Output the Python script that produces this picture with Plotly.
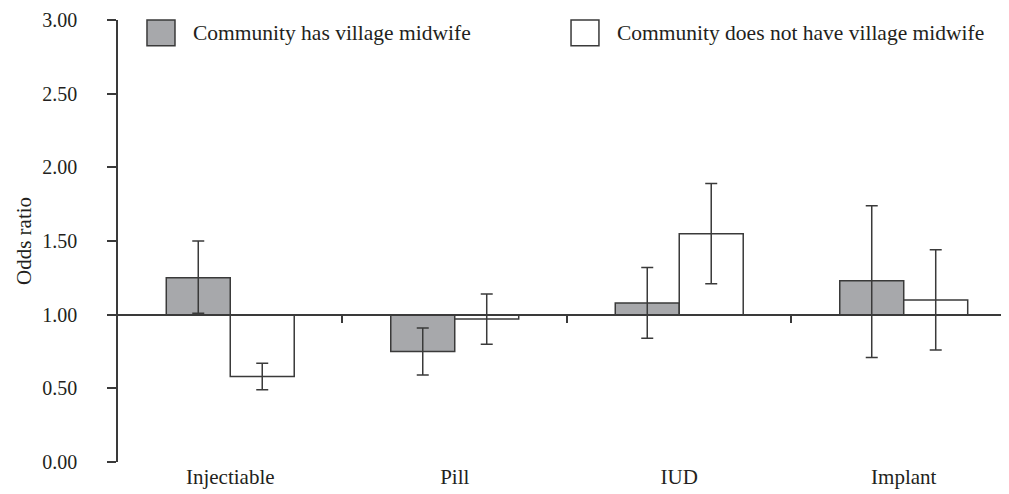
import plotly.graph_objects as go

categories = ["Injectiable", "Pill", "IUD", "Implant"]
series_names = ["Community has village midwife", "Community does not have village midwife"]
has_midwife_or = [1.25, 0.75, 1.08, 1.23]
has_midwife_upper = [1.50, 0.91, 1.32, 1.74]
has_midwife_lower = [1.01, 0.59, 0.84, 0.71]
no_midwife_or = [0.58, 0.97, 1.55, 1.10]
no_midwife_upper = [0.67, 1.14, 1.89, 1.44]
no_midwife_lower = [0.49, 0.80, 1.21, 0.76]
y_tick_values = [0, 0.5, 1, 1.5, 2, 2.5, 3]
reference_line = 1.0

FONT = "Liberation Serif"
TXT = "#231f20"
LINE = "#3a3a3a"
GRAY = "#a7a8ab"

fig = go.Figure()

def add_series(name, vals, up, lo, fill):
    fig.add_trace(go.Bar(
        name=name, x=categories,
        y=[v - reference_line for v in vals], base=reference_line,
        marker=dict(color=fill, line=dict(color=LINE, width=1.5)),
        error_y=dict(type="data", symmetric=False,
                     array=[u - v for u, v in zip(up, vals)],
                     arrayminus=[v - l for v, l in zip(vals, lo)],
                     color=LINE, thickness=1.5, width=6),
        showlegend=False, hoverinfo="skip",
    ))

add_series(series_names[0], has_midwife_or, has_midwife_upper, has_midwife_lower, GRAY)
add_series(series_names[1], no_midwife_or, no_midwife_upper, no_midwife_lower, "white")

# empty trace so the reference-line axis (x2) is drawn
fig.add_trace(go.Scatter(x=[None], y=[None], xaxis="x2", yaxis="y",
                         showlegend=False, hoverinfo="skip", mode="markers"))

x_range = [-0.5, 3.46]
fig.update_layout(
    width=1001, height=486,
    margin=dict(l=110, r=2, t=12, b=32, autoexpand=False),
    paper_bgcolor="white", plot_bgcolor="white",
    font=dict(family=FONT, size=20, color=TXT),
    barmode="group", bargap=0.43, bargroupgap=0,
    xaxis=dict(range=x_range, showline=False, ticks="", showgrid=False,
               zeroline=False, tickfont=dict(size=21), automargin=False),
    xaxis2=dict(overlaying="x", anchor="free",
                position=(reference_line - 0) / (3 - 0),
                type="linear", range=x_range, showline=True, linecolor=LINE,
                linewidth=1.5, ticks="outside", ticklen=8, tickwidth=1.5,
                tickcolor=LINE, tickvals=[0.5, 1.5, 2.5], showticklabels=False,
                showgrid=False, zeroline=False, automargin=False),
    yaxis=dict(range=[0, 3], tickvals=y_tick_values, tickformat=".2f",
               showline=True, linecolor=LINE, linewidth=1.5,
               ticks="outside", ticklen=9, tickwidth=1.5, tickcolor=LINE,
               ticklabelstandoff=26, ticklabeloverflow="allow",
               showgrid=False, zeroline=False, automargin=False,
               title=dict(text="Odds ratio", standoff=5,
                          font=dict(size=21))),
)

# custom legend (large swatches)
fills = [GRAY, "white"]
box_x = [(0.0326, 0.0641), (0.5096, 0.541)]
text_x = [0.0821, 0.559]
for i in range(2):
    fig.add_shape(type="rect", xref="paper", yref="paper",
                  x0=box_x[i][0], x1=box_x[i][1], y0=0.9416, y1=1.0,
                  fillcolor=fills[i], line=dict(color=LINE, width=1.5))
    fig.add_annotation(text=series_names[i], xref="paper", yref="paper",
                       x=text_x[i], y=0.971, xanchor="left", yanchor="middle",
                       showarrow=False, font=dict(size=21.5, color=TXT))

fig.write_html("out.html")
